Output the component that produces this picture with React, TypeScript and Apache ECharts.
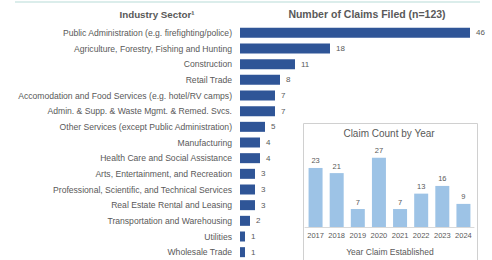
import React, { useEffect, useRef } from "react";
import * as echarts from "echarts";

const sectors = [
  "Public Administration (e.g. firefighting/police)",
  "Agriculture, Forestry, Fishing and Hunting",
  "Construction",
  "Retail Trade",
  "Accomodation and Food Services (e.g. hotel/RV camps)",
  "Admin. & Supp. & Waste Mgmt. & Remed. Svcs.",
  "Other Services (except Public Administration)",
  "Manufacturing",
  "Health Care and Social Assistance",
  "Arts, Entertainment, and Recreation",
  "Professional, Scientific, and Technical Services",
  "Real Estate Rental and Leasing",
  "Transportation and Warehousing",
  "Utilities",
  "Wholesale Trade",
];
const claims = [46, 18, 11, 8, 7, 7, 5, 4, 4, 3, 3, 3, 2, 1, 1];

const years = ["2017", "2018", "2019", "2020", "2021", "2022", "2023", "2024"];
const yearCounts = [23, 21, 7, 27, 7, 13, 16, 9];

const FONT = "Liberation Sans, Arial, sans-serif";
const TXT = "#595959";

export default function App() {
  const ref = useRef<HTMLDivElement>(null);
  useEffect(() => {
    if (!ref.current) return;
    const chart = echarts.init(ref.current, null, { renderer: "svg" });
    chart.setOption({
      animation: false,
      backgroundColor: "#ffffff",
      textStyle: { fontFamily: FONT },
      grid: [
        { left: 240, width: 230, top: 25, height: 237 },
        { left: 305, width: 169, top: 150, height: 77 },
      ],
      xAxis: [
        { type: "value", gridIndex: 0, min: 0, max: 46, show: false },
        {
          type: "category",
          gridIndex: 1,
          data: years,
          axisTick: { show: false },
          axisLine: { lineStyle: { color: "#d9d9d9" } },
          axisLabel: { color: TXT, fontSize: 7.5, margin: 4, interval: 0, fontFamily: FONT },
        },
      ],
      yAxis: [
        {
          type: "category",
          gridIndex: 0,
          data: sectors,
          inverse: true,
          axisLine: { show: false },
          axisTick: { show: false },
          axisLabel: { color: TXT, fontSize: 8.6, margin: 8, fontFamily: FONT },
        },
        { type: "value", gridIndex: 1, min: 0, max: 30, show: false },
      ],
      series: [
        {
          type: "bar",
          xAxisIndex: 0,
          yAxisIndex: 0,
          data: claims,
          barWidth: 10,
          itemStyle: { color: "#2F5597" },
          label: { show: true, position: "right", color: TXT, fontSize: 8, distance: 6, fontFamily: FONT },
        },
        {
          type: "bar",
          xAxisIndex: 1,
          yAxisIndex: 1,
          data: yearCounts,
          barWidth: 14,
          itemStyle: { color: "#9DC3E6" },
          label: { show: true, position: "top", color: TXT, fontSize: 7.5, distance: 3, fontFamily: FONT },
        },
      ],
      graphic: [
        {
          type: "line",
          shape: { x1: 15, y1: 2, x2: 480, y2: 2 },
          style: { stroke: "#cfe7e5", lineWidth: 1.5 },
        },
        {
          type: "text",
          x: 157,
          y: 14,
          style: {
            text: "Industry Sector¹",
            fill: TXT,
            font: `bold 9.8px ${FONT}`,
            textAlign: "center",
            textVerticalAlign: "middle",
          },
        },
        {
          type: "text",
          x: 367,
          y: 14,
          style: {
            text: "Number of Claims Filed (n=123)",
            fill: TXT,
            font: `bold 10.5px ${FONT}`,
            textAlign: "center",
            textVerticalAlign: "middle",
          },
        },
        {
          type: "rect",
          shape: { x: 303.5, y: 123.5, width: 174, height: 140 },
          style: { fill: "none", stroke: "#d0d0d0", lineWidth: 1 },
        },
        {
          type: "text",
          x: 389,
          y: 133,
          style: {
            text: "Claim Count by Year",
            fill: TXT,
            font: `10px ${FONT}`,
            textAlign: "center",
            textVerticalAlign: "middle",
          },
        },
        {
          type: "text",
          x: 390,
          y: 252,
          style: {
            text: "Year Claim Established",
            fill: TXT,
            font: `8.5px ${FONT}`,
            textAlign: "center",
            textVerticalAlign: "middle",
          },
        },
      ],
    });
    return () => chart.dispose();
  }, []);
  return <div ref={ref} style={{ width: 492, height: 260, position: "absolute", left: 0, top: 0 }} />;
}
